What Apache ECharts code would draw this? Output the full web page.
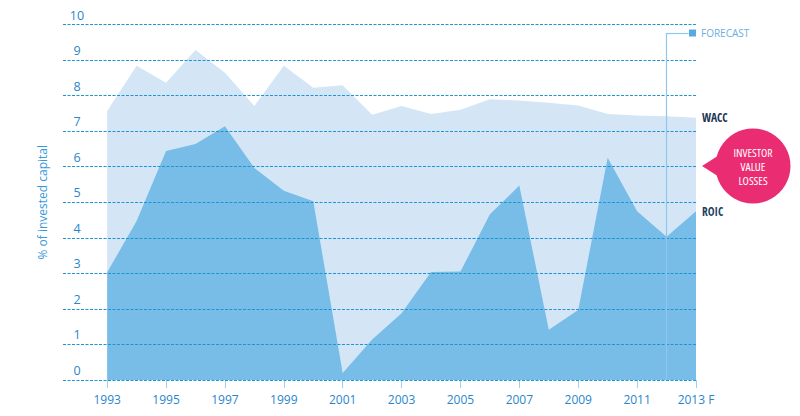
<!DOCTYPE html>
<html>
<head>
<meta charset="utf-8">
<script src="https://cdn.jsdelivr.net/npm/echarts@6/dist/echarts.min.js"></script>
<style>
html, body { margin: 0; padding: 0; background: #fff; }
#chart { width: 800px; height: 416px; }
</style>
</head>
<body>
<div id="chart"></div>
<script>
// years and values (% of invested capital)
var years = [1993, 1994, 1995, 1996, 1997, 1998, 1999, 2000, 2001, 2002, 2003,
             2004, 2005, 2006, 2007, 2008, 2009, 2010, 2011, 2012, 2013];
var wacc = [7.57, 8.84, 8.36, 9.28, 8.64, 7.71, 8.84, 8.22, 8.29, 7.46, 7.71,
            7.48, 7.6, 7.9, 7.86, 7.8, 7.72, 7.48, 7.44, 7.42, 7.38];
var roic = [3.03, 4.47, 6.44, 6.64, 7.14, 5.96, 5.32, 5.03, 0.2, 1.14, 1.88,
            3.04, 3.05, 4.66, 5.47, 1.41, 1.97, 6.25, 4.75, 4.03, 4.75];
var yearLabels = [1993, 1995, 1997, 1999, 2001, 2003, 2005, 2007, 2009, 2011, 2013];
var forecastYear = 2012;

// narrow lettering: condensed width of Open Sans (svg renderer honours it)
var font = "'Open Sans', sans-serif";
var boldFont = "'Open Sans Condensed', 'Open Sans', sans-serif";
var narrow = 'condensed';

function pairs(vals) {
    var out = [];
    for (var i = 0; i < years.length; i++) {
        out.push([years[i], vals[i]]);
    }
    return out;
}

var myChart = echarts.init(document.getElementById('chart'), null, { renderer: 'svg' });
var option = {
    backgroundColor: '#fff',
    animation: false,
    grid: {
        left: 63,
        right: 104,
        top: 24.5,
        bottom: 36
    },
    legend: {
        data: [{ name: 'FORECAST', icon: 'rect' }],
        left: 689,
        top: 28,
        padding: 0,
        itemWidth: 7,
        itemHeight: 7,
        itemGap: 5,
        selectedMode: false,
        textStyle: { color: '#6aaee0', fontFamily: font, fontWeight: narrow, fontSize: 10 }
    },
    xAxis: {
        type: 'value',
        min: 1991.5,
        max: 2013,
        splitLine: { show: false },
        axisLine: { show: false },
        axisTick: {
            customValues: yearLabels,
            length: 8,
            lineStyle: { color: '#9fd0ef', width: 1 }
        },
        axisLabel: {
            customValues: yearLabels,
            margin: 13,
            color: '#2a86cc',
            fontFamily: font,
            fontWeight: narrow,
            fontSize: 12,
            formatter: function (v) { return v === 2013 ? '2013 F' : String(v); }
        }
    },
    yAxis: {
        type: 'value',
        min: 0,
        max: 10,
        interval: 1,
        z: 5,
        name: '% of invested capital',
        nameLocation: 'middle',
        nameGap: 15,
        nameTextStyle: { color: '#3a9ad8', fontFamily: font, fontWeight: narrow, fontSize: 12 },
        axisLine: { show: false },
        axisTick: { show: false },
        splitLine: {
            lineStyle: { color: '#1f94d4', type: [3, 1.5], width: 1 }
        },
        axisLabel: {
            inside: true,
            margin: 14,
            align: 'center',
            verticalAlign: 'bottom',
            padding: [0, 0, 3, 0],
            color: '#2a86cc',
            fontFamily: font,
            fontWeight: narrow,
            fontSize: 12.5
        }
    },
    series: [
        {
            name: 'WACC',
            type: 'line',
            data: pairs(wacc),
            symbol: 'none',
            lineStyle: { width: 0 },
            areaStyle: { color: '#d4e6f6', opacity: 1 },
            endLabel: {
                show: true,
                formatter: '{a}',
                distance: 6,
                color: '#1c3354',
                fontFamily: boldFont,
                fontWeight: 'bold',
                fontSize: 11.5
            }
        },
        {
            name: 'ROIC',
            type: 'line',
            data: pairs(roic),
            symbol: 'none',
            lineStyle: { width: 0 },
            areaStyle: { color: '#77bde8', opacity: 1 },
            endLabel: {
                show: true,
                formatter: '{a}',
                distance: 6,
                color: '#243f5e',
                fontFamily: boldFont,
                fontWeight: 'bold',
                fontSize: 11.5
            }
        },
        {
            name: 'FORECAST',
            type: 'line',
            data: [],
            itemStyle: { color: '#5aa8e0' },
            z: 6,
            markLine: {
                silent: true,
                symbol: 'none',
                label: { show: false },
                lineStyle: { color: '#8ec6ec', type: 'solid', width: 1.2 },
                data: [
                    [{ coord: [forecastYear, 0] }, { coord: [forecastYear, 9.76] }],
                    [{ coord: [forecastYear, 9.76] }, { coord: [2012.75, 9.76] }]
                ]
            }
        }
    ],
    graphic: [
        {
            type: 'group',
            children: [
                {
                    type: 'polygon',
                    shape: { points: [[702, 166], [724, 152], [724, 180]] },
                    style: { fill: '#ea2d72' }
                },
                {
                    type: 'circle',
                    shape: { cx: 753, cy: 166, r: 37.5 },
                    style: { fill: '#ea2d72' }
                },
                {
                    type: 'text',
                    x: 753,
                    y: 166,
                    style: {
                        text: 'INVESTOR\nVALUE\nLOSSES',
                        fill: '#fff',
                        font: 'condensed 11.5px ' + font,
                        lineHeight: 14,
                        align: 'center',
                        verticalAlign: 'middle'
                    }
                }
            ]
        }
    ]
};
myChart.setOption(option);
</script>
</body>
</html>
